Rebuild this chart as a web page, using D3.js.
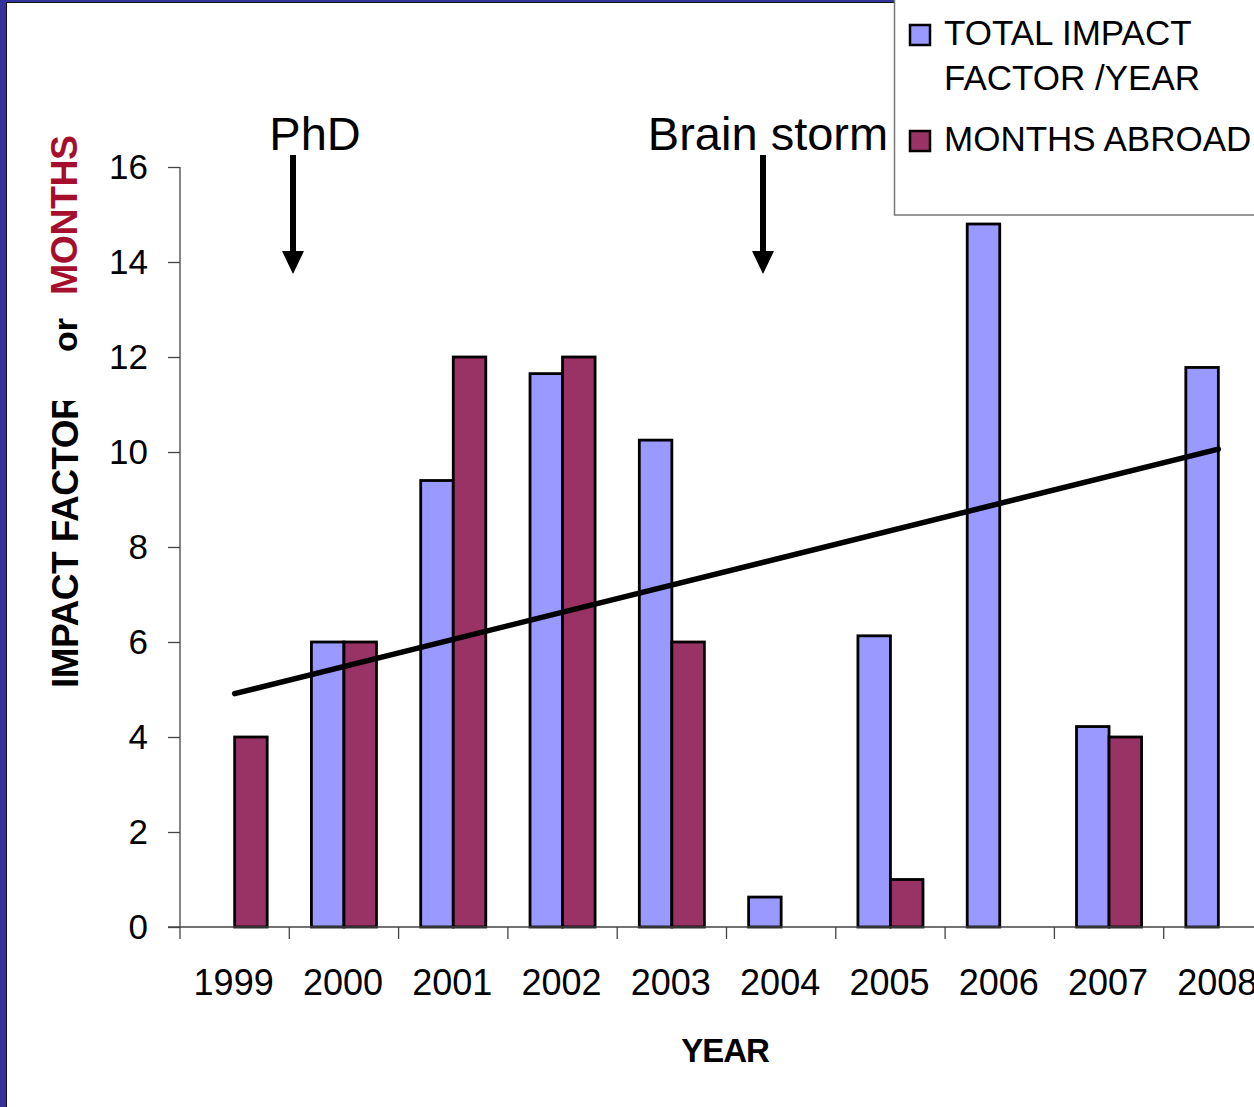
<!DOCTYPE html>
<html>
<head>
<meta charset="utf-8">
<script src="https://cdn.jsdelivr.net/npm/d3@7/dist/d3.min.js"></script>
<style>
  html, body { margin: 0; padding: 0; background: #333399; }
  svg { display: block; font-family: "Liberation Sans", Arial, sans-serif; }
</style>
</head>
<body>
<div id="chart"></div>
<script>
// ---- data ----
var years        = ["1999", "2000", "2001", "2002", "2003", "2004", "2005", "2006", "2007", "2008"];
var impactFactor = [null, 6.0, 9.4, 11.65, 10.25, 0.63, 6.13, 14.8, 4.22, 11.78];
var monthsAbroad = [4, 6, 12, 12, 6, null, 1, null, 4, null];
var seriesNames  = ["TOTAL IMPACT FACTOR /YEAR", "MONTHS ABROAD"];
var seriesColors = ["#9999FF", "#993366"];
var yTicks       = [0, 2, 4, 6, 8, 10, 12, 14, 16];
var events       = [{ label: "PhD", year: "2000" }, { label: "Brain storm", year: "2004" }];

var W = 1254, H = 1107;
var plot = { left: 180, top: 167, bottom: 927, step: 109.3 };

var svg = d3.select("#chart").append("svg")
    .attr("width", W)
    .attr("height", H);

// slide frame: blue border on the left and top, white chart area
svg.append("rect").attr("width", W).attr("height", H).attr("fill", "#333399");
svg.append("rect")
    .attr("x", 6.5).attr("y", 2.5)
    .attr("width", W).attr("height", H)
    .attr("fill", "#fff")
    .attr("stroke", "#111").attr("stroke-width", 1);

// scales
var x0 = d3.scaleBand()
    .domain(years)
    .range([plot.left, plot.left + plot.step * years.length])
    .padding(0);

var x1 = d3.scaleBand()
    .domain([0, 1])
    .range([0, x0.bandwidth()])
    .paddingInner(0)
    .paddingOuter(0.68);

var y = d3.scaleLinear().domain([0, 16]).range([plot.bottom, plot.top]);

// bars
var rows = years.map(function (yr, i) {
  return { year: yr, vals: [impactFactor[i], monthsAbroad[i]] };
});

var groups = svg.append("g").attr("class", "bars")
  .selectAll("g")
  .data(rows)
  .enter().append("g")
    .attr("transform", function (d) { return "translate(" + x0(d.year) + ",0)"; });

groups.selectAll("rect")
  .data(function (d) {
    return d.vals.map(function (v, s) { return { s: s, v: v }; })
                 .filter(function (e) { return e.v !== null; });
  })
  .enter().append("rect")
    .attr("x", function (d) { return x1(d.s); })
    .attr("y", function (d) { return y(d.v); })
    .attr("width", x1.bandwidth())
    .attr("height", function (d) { return y(0) - y(d.v); })
    .attr("fill", function (d) { return seriesColors[d.s]; })
    .attr("stroke", "#000")
    .attr("stroke-width", 2.8);

// linear trend line of the impact factor (1999 counted as 0, like the source)
var pts = impactFactor.map(function (v, i) { return [i, v === null ? 0 : v]; });
var mx = d3.mean(pts, function (p) { return p[0]; }),
    my = d3.mean(pts, function (p) { return p[1]; });
var slope = d3.sum(pts, function (p) { return (p[0] - mx) * (p[1] - my); }) /
            d3.sum(pts, function (p) { return (p[0] - mx) * (p[0] - mx); });
var trend = [0, years.length - 1].map(function (i) {
  return [x0(years[i]) + x0.bandwidth() / 2, y(my + slope * (i - mx))];
});

svg.append("path")
    .attr("d", d3.line()(trend))
    .attr("fill", "none")
    .attr("stroke", "#000")
    .attr("stroke-width", 5.5)
    .attr("stroke-linecap", "round");

// y axis
var yAxis = d3.axisLeft(y).tickValues(yTicks).tickSize(12).tickPadding(20);
var yAxisEl = svg.append("g")
    .attr("transform", "translate(" + plot.left + ",0)")
    .call(yAxis);
yAxisEl.select(".domain").attr("d", "M0," + plot.top + "V" + plot.bottom);

// x axis
var xAxis = d3.axisBottom(x0).tickSize(0).tickPadding(42);
var xAxisEl = svg.append("g")
    .attr("transform", "translate(0," + plot.bottom + ")")
    .call(xAxis);
xAxisEl.select(".domain").attr("d", "M" + (plot.left - 12) + ",0H" + W);
xAxisEl.selectAll(".tick").each(function (d) {
  d3.select(this).append("line")
      .attr("x1", -x0.bandwidth() / 2).attr("x2", -x0.bandwidth() / 2)
      .attr("y1", 0).attr("y2", 12)
      .attr("stroke", "#444");
});

svg.selectAll(".domain").attr("stroke", "#444").attr("stroke-width", 1.3);
svg.selectAll(".tick line").attr("stroke", "#444").attr("stroke-width", 1.3);
yAxisEl.selectAll(".tick text")
    .attr("font-family", "Liberation Sans, Arial, sans-serif")
    .attr("font-size", 35).attr("fill", "#000");
xAxisEl.selectAll(".tick text")
    .attr("font-family", "Liberation Sans, Arial, sans-serif")
    .attr("font-size", 36).attr("fill", "#000")
    .attr("dx", -1);

// axis titles
svg.append("text")
    .attr("x", 725).attr("y", 1062)
    .attr("text-anchor", "middle")
    .attr("font-size", 33).attr("font-weight", "bold")
    .attr("letter-spacing", -1)
    .text("YEAR");

svg.append("clipPath").attr("id", "clipIF")
  .append("rect").attr("x", 0).attr("y", 401).attr("width", 200).attr("height", 400);

svg.append("g").attr("clip-path", "url(#clipIF)")
  .append("text")
    .attr("transform", "translate(78,688) rotate(-90)")
    .attr("font-size", 37).attr("font-weight", "bold")
    .attr("letter-spacing", -0.5)
    .text("IMPACT FACTOR");

svg.append("text")
    .attr("transform", "translate(77,352) rotate(-90)")
    .attr("font-size", 34).attr("font-weight", "bold")
    .text("or");

svg.append("text")
    .attr("transform", "translate(77,295) rotate(-90)")
    .attr("font-size", 37.5).attr("font-weight", "bold")
    .attr("letter-spacing", -0.5)
    .attr("fill", "#A50F2D")
    .text("MONTHS");

// event annotations with arrows
var arrowX = { "PhD": 293, "Brain storm": 763 };
var labelX = { "PhD": 315, "Brain storm": 768 };
events.forEach(function (e) {
  var ax = arrowX[e.label];
  svg.append("text")
      .attr("x", labelX[e.label]).attr("y", 150)
      .attr("text-anchor", "middle")
      .attr("font-size", 47)
      .text(e.label);
  svg.append("line")
      .attr("x1", ax).attr("x2", ax)
      .attr("y1", 155).attr("y2", 254)
      .attr("stroke", "#000").attr("stroke-width", 6);
  svg.append("path")
      .attr("d", "M" + (ax - 11) + ",251L" + (ax + 11) + ",251L" + ax + ",274Z")
      .attr("fill", "#000");
});

// legend
var legend = svg.append("g");
legend.append("rect")
    .attr("x", 894.5).attr("y", -5)
    .attr("width", 400).attr("height", 220)
    .attr("fill", "#fff")
    .attr("stroke", "#777").attr("stroke-width", 1.5);

var legendRows = [
  { s: 0, lines: ["TOTAL IMPACT", "FACTOR /YEAR"], y: 45 },
  { s: 1, lines: ["MONTHS ABROAD"], y: 151 }
];
legendRows.forEach(function (r) {
  legend.append("rect")
      .attr("x", 910).attr("y", r.y - 20)
      .attr("width", 20).attr("height", 20)
      .attr("fill", seriesColors[r.s])
      .attr("stroke", "#000").attr("stroke-width", 2.5);
  r.lines.forEach(function (t, k) {
    legend.append("text")
        .attr("x", 944).attr("y", r.y + k * 45)
        .attr("font-size", 35)
        .text(t);
  });
});
</script>
</body>
</html>
